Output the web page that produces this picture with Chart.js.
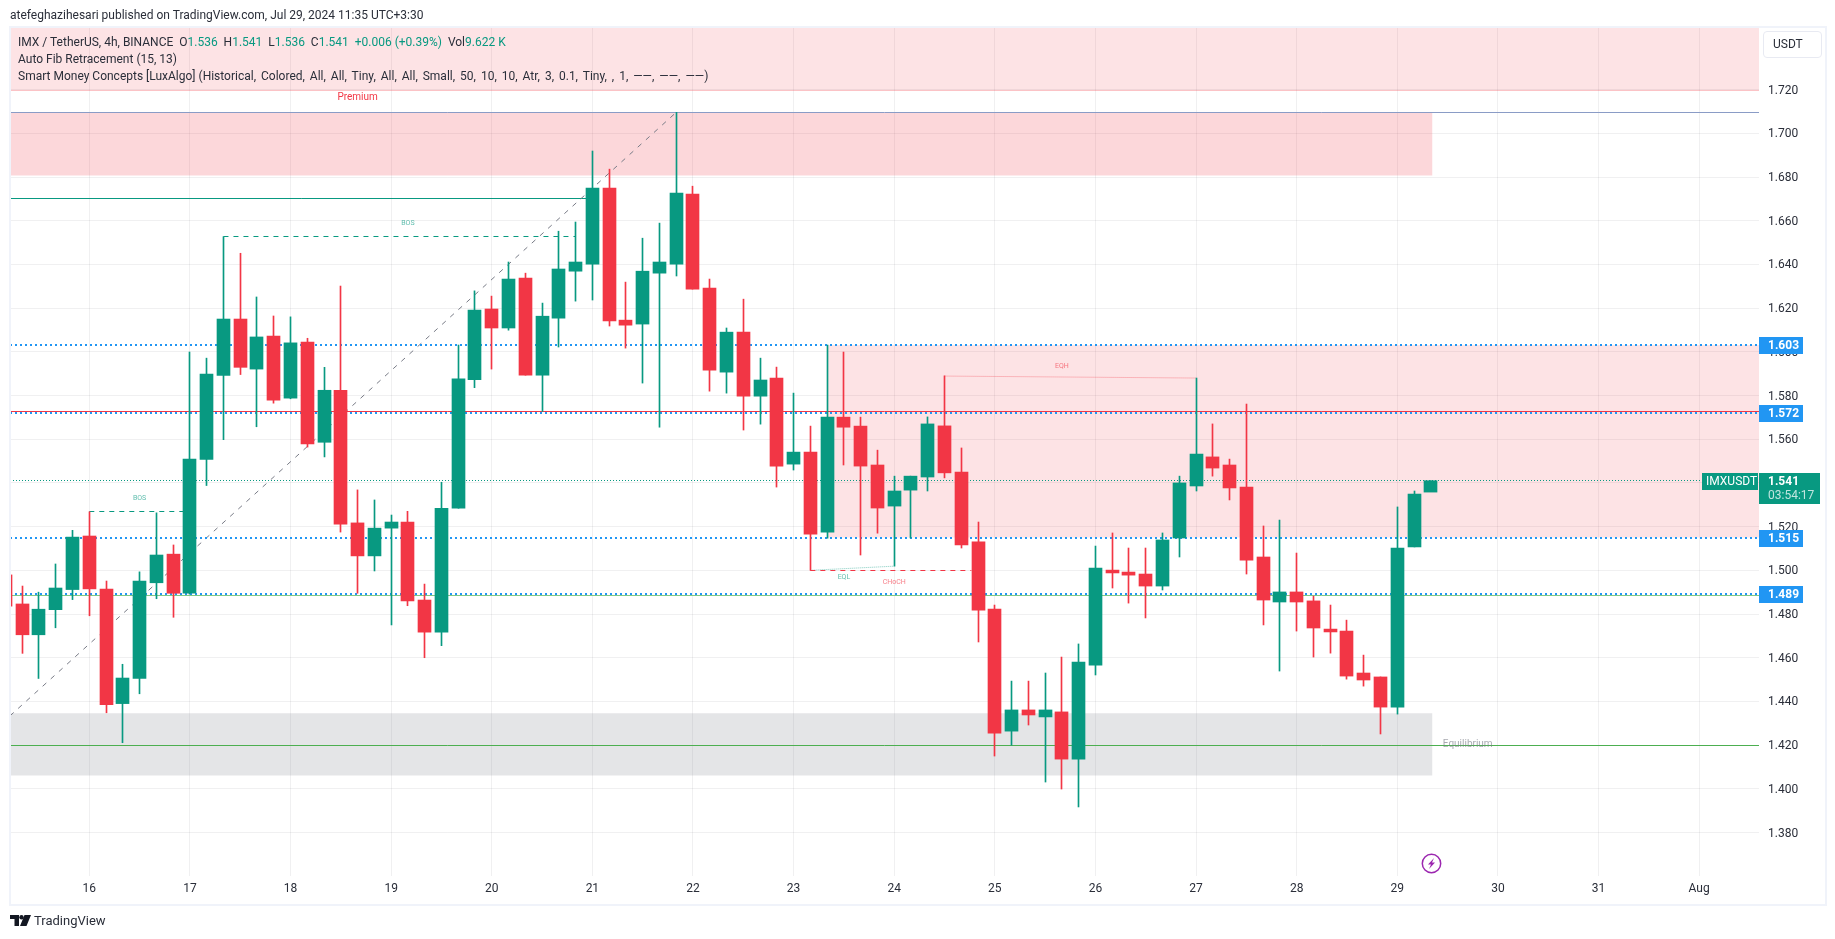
<!DOCTYPE html>
<html>
<head>
<meta charset="utf-8">
<title>IMX / TetherUS, 4h</title>
<script src="https://cdn.jsdelivr.net/npm/chart.js@4"></script>
<style>
    html, body { margin: 0; padding: 0; background: #fff; overflow: hidden; }
    body { width: 1835px; height: 939px; position: relative; font-family: Roboto, sans-serif; color: #131722; }
    #plot { position: absolute; left: 0; top: 0; width: 1835px; height: 939px; }
    #frame { position: absolute; left: 9px; top: 26px; width: 1814px; height: 876px; border: 2px solid #f0f3fa; pointer-events: none; }
    .line { position: absolute; white-space: pre; font-size: 12px; line-height: 16px; color: #2a2e39; }
    .line b { font-weight: 400; color: #089981; }
    .line i { font-style: normal; word-spacing: 2px; }
    #published { left: 10px; top: 7px; }
    #legend1 { left: 18px; top: 34px; }
    #legend2 { left: 18px; top: 51px; }
    #legend3 { left: 18px; top: 68px; }
    #usdt { position: absolute; left: 1763px; top: 31px; width: 57px; height: 25px; border: 1px solid #e8eaf2; border-radius: 4px; font-size: 12px; line-height: 25px; text-indent: 9px; color: #2a2e39; }
    #brand { position: absolute; left: 34px; top: 912px; font-size: 13px; line-height: 18px; color: #2a2e39; }
    #logo { position: absolute; left: 10px; top: 915px; }
    #bolt { position: absolute; left: 1421px; top: 853px; }
</style>
</head>
<body>
<canvas id="plot" width="1835" height="939"></canvas>
<div id="frame"></div>
<div class="line" id="published">atefeghazihesari published on TradingView.com, Jul 29, 2024 11:35 UTC+3:30</div>
<div class="line" id="legend1">IMX / TetherUS, 4h, BINANCE  O<b>1.536</b>  H<b>1.541</b>  L<b>1.536</b>  C<b>1.541</b>  <b>+0.006 (+0.39%)</b>  Vol<b>9.622 K</b></div>
<div class="line" id="legend2">Auto Fib Retracement (15, 13)</div>
<div class="line" id="legend3">Smart Money Concepts [LuxAlgo] <i>(Historical, Colored, All, All, Tiny, All, All, Small, 50, 10, 10, Atr, 3, 0.1, Tiny, , 1, ——, ——, ——)</i></div>
<div id="usdt">USDT</div>
<svg id="logo" width="22" height="11" viewBox="0 0 22 11">
    <path d="M0 0h9v11H4.5V4H0z M14.5 0H21l-4.5 11H10z" fill="#131722"/>
    <circle cx="11.5" cy="2.2" r="2.2" fill="#131722"/>
</svg>
<div id="brand">TradingView</div>
<svg id="bolt" width="21" height="21" viewBox="0 0 21 21">
    <circle cx="10.5" cy="10.5" r="9.2" fill="#fff" stroke="#9c27b0" stroke-width="1.5"/>
    <path d="M13 5 L7 11.5 H10 L8 16 L14 9.5 H11 Z" fill="#9c27b0"/>
</svg>

<script>
    // OHLC, one entry per 4h bar, first bar is cut by the left edge
    const opens = [1.4979, 1.4846, 1.4705, 1.4820, 1.4912, 1.5157, 1.4914, 1.4390, 1.4505, 1.4943, 1.5074,
        1.4895, 1.5507, 1.5892, 1.6150, 1.5921, 1.6072, 1.5788, 1.6045, 1.5586, 1.5824, 1.5217, 1.5066, 1.5193,
        1.5221, 1.4864, 1.4717, 1.5284, 1.5872, 1.6196, 1.6109, 1.6337, 1.5893, 1.6154, 1.6369, 1.6401, 1.6749,
        1.6145, 1.6127, 1.6360, 1.6401, 1.6722, 1.6292, 1.5907, 1.6090, 1.5797, 1.5880, 1.5486, 1.5541, 1.5175,
        1.5701, 1.5660, 1.5482, 1.5294, 1.5367, 1.5427, 1.5661, 1.5450, 1.5130, 1.4823, 1.4264, 1.4361, 1.4329,
        1.4352, 1.4136, 1.4566, 1.5001, 1.4992, 1.4983, 1.4928, 1.5148, 1.5386, 1.5519, 1.5482, 1.5381, 1.5061,
        1.4855, 1.4901, 1.4860, 1.4731, 1.4722, 1.4530, 1.4512, 1.4374, 1.5107, 1.5358];
    const highs = [1.5020, 1.4928, 1.4900, 1.5029, 1.5183, 1.5268, 1.4951, 1.4570, 1.4993, 1.5263, 1.5116,
        1.5999, 1.5971, 1.6527, 1.6451, 1.6251, 1.6164, 1.6160, 1.6062, 1.5929, 1.6301, 1.5368, 1.5322, 1.5253,
        1.5270, 1.4937, 1.5403, 1.6031, 1.6279, 1.6255, 1.6411, 1.6360, 1.6223, 1.6552, 1.6594, 1.6919, 1.6836,
        1.6319, 1.6520, 1.6589, 1.7096, 1.6758, 1.6333, 1.6109, 1.6241, 1.5971, 1.5930, 1.5811, 1.5660, 1.6031,
        1.5999, 1.5701, 1.5550, 1.5431, 1.5431, 1.5702, 1.5890, 1.5560, 1.5221, 1.4841, 1.4493, 1.4493, 1.4530,
        1.4603, 1.4663, 1.5111, 1.5171, 1.5102, 1.5102, 1.5171, 1.5431, 1.5880, 1.5670, 1.5509, 1.5761, 1.5203,
        1.5230, 1.5079, 1.4882, 1.4841, 1.4772, 1.4612, 1.4512, 1.5290, 1.5363, 1.5410];
    const lows = [1.4800, 1.4620, 1.4505, 1.4737, 1.4866, 1.4792, 1.4348, 1.4211, 1.4435, 1.4870, 1.4785,
        1.4891, 1.5388, 1.5598, 1.5896, 1.5657, 1.5765, 1.5785, 1.5564, 1.5519, 1.5175, 1.4895, 1.4997, 1.4750,
        1.4838, 1.4600, 1.4655, 1.5284, 1.5836, 1.5921, 1.6099, 1.5893, 1.5727, 1.6022, 1.6232, 1.6237, 1.6118,
        1.6017, 1.5857, 1.5655, 1.6347, 1.6287, 1.5820, 1.5811, 1.5642, 1.5669, 1.5381, 1.5459, 1.5000, 1.5147,
        1.5482, 1.5070, 1.5170, 1.5019, 1.5148, 1.5363, 1.5423, 1.5102, 1.4672, 1.4150, 1.4200, 1.4292, 1.4031,
        1.3999, 1.3917, 1.4521, 1.4919, 1.4850, 1.4782, 1.4910, 1.5061, 1.5363, 1.5431, 1.5322, 1.4983, 1.4750,
        1.4539, 1.4722, 1.4603, 1.4621, 1.4502, 1.4470, 1.4251, 1.4342, 1.5107, 1.5360];
    const closes = [1.4836, 1.4705, 1.4822, 1.4919, 1.5152, 1.4915, 1.4385, 1.4507, 1.4951, 1.5070, 1.4895,
        1.5509, 1.5898, 1.6150, 1.5929, 1.6068, 1.5779, 1.6041, 1.5578, 1.5824, 1.5211, 1.5066, 1.5193, 1.5221,
        1.4860, 1.4717, 1.5284, 1.5876, 1.6191, 1.6109, 1.6333, 1.5893, 1.6163, 1.6379, 1.6411, 1.6749, 1.6141,
        1.6122, 1.6369, 1.6411, 1.6726, 1.6287, 1.5916, 1.6090, 1.5797, 1.5871, 1.5477, 1.5541, 1.5166, 1.5701,
        1.5655, 1.5477, 1.5285, 1.5363, 1.5431, 1.5670, 1.5446, 1.5116, 1.4818, 1.4255, 1.4361, 1.4338, 1.4361,
        1.4136, 1.4580, 1.5010, 1.4988, 1.4978, 1.4928, 1.5139, 1.5400, 1.5532, 1.5468, 1.5377, 1.5047, 1.4864,
        1.4901, 1.4855, 1.4736, 1.4718, 1.4516, 1.4498, 1.4374, 1.5102, 1.5349, 1.5410];

    // axis
    const firstBar = 0.271, lastBar = 104.57;
    const priceMin = 1.3601, priceMax = 1.7482;
    const priceTicks = [1.38, 1.40, 1.42, 1.44, 1.46, 1.48, 1.50, 1.52, 1.54, 1.56, 1.58, 1.60, 1.62, 1.64, 1.66, 1.68, 1.70, 1.72];
    const dayTicks = [5, 11, 17, 23, 29, 35, 41, 47, 53, 59, 65, 71, 77, 83, 89, 95, 101];
    const dayLabels = ['16', '17', '18', '19', '20', '21', '22', '23', '24', '25', '26', '27', '28', '29', '30', '31', 'Aug'];

    // price levels with a tag on the axis
    const tagPrices = [1.603, 1.572, 1.515, 1.489];
    const lastPrice = 1.541;
    const timerText = '03:54:17';
    const symbolText = 'IMXUSDT';

    // smart money levels and zones
    const redLevel = 1.5728, lightGreenLevel = 1.4884, equilibriumLevel = 1.42, topLevel = 1.7096;
    const swingLevel = 1.67, swingEndBar = 35;
    const premiumZone = [1.7198, 1.7482];
    const supplyZone = [1.6809, 1.7096];
    const supplyEndBar = 85.1;
    const equilibriumZone = [1.4060, 1.4346];
    const orderBlock = [1.5148, 1.6031];
    const orderBlockStartBar = 49;
    const fibBars = [0.271, 40], fibPrices = [1.4334, 1.7096];
    const bosHighBars = [13, 34], bosHighPrice = 1.6527;
    const bosLowBars = [5, 10.6], bosLowPrice = 1.5268;
    const eqlBars = [48, 53], eqlPrices = [1.5000, 1.5019];
    const chochBars = [48, 57.6], chochPrice = 1.5000;
    const eqhBars = [56, 71], eqhPrices = [1.5889, 1.5880];

    // in-chart text: label, bar, price
    const noteLabels = ['Premium', 'BOS', 'BOS', 'EQH', 'EQL', 'CHoCH', 'Equilibrium'];
    const noteBars = [21, 24, 8, 63, 50, 53, 87.2];
    const notePrices = [1.7163, 1.6587, 1.5329, 1.5936, 1.4966, 1.4947, 1.4202];

    const TEAL = '#089981', RED = '#f23645', BLUE = '#2196f3', GRID = 'rgba(42,46,57,0.07)';
    const barColors = opens.map((o, i) => closes[i] >= o ? TEAL : RED);

    function segment(bars, prices, color, width, dash) {
        return {
            type: 'line', order: 5, pointRadius: 0, tension: 0, fill: false,
            borderColor: color, borderWidth: width, borderDash: dash || [],
            data: bars.map((b, i) => ({ x: b, y: prices[i] }))
        };
    }

    function level(price, color, width, dash) {
        return segment([firstBar, lastBar], [price, price], color, width, dash);
    }

    function zone(fromBar, toBar, range, color, edge) {
        const ds = segment([fromBar, toBar], [range[0], range[0]], edge || 'transparent', edge ? 1 : 0);
        ds.order = 6;
        ds.fill = { target: { value: range[1] } };
        ds.backgroundColor = color;
        return ds;
    }

    const datasets = [
        zone(firstBar, lastBar, premiumZone, 'rgba(242,54,69,0.14)', 'rgba(242,54,69,0.25)'),
        zone(firstBar, supplyEndBar, supplyZone, 'rgba(242,54,69,0.2)'),
        zone(firstBar, supplyEndBar, equilibriumZone, 'rgba(120,123,134,0.2)'),
        zone(orderBlockStartBar, lastBar, orderBlock, 'rgba(242,54,69,0.14)'),
        // first in the list is drawn on top
        ...tagPrices.map(p => level(p, BLUE, 2, [2, 3])),
        level(topLevel, '#8a9cc6', 1),
        level(redLevel, RED, 1),
        level(lightGreenLevel, '#81c784', 1),
        level(equilibriumLevel, '#4caf50', 1),
        level(lastPrice, TEAL, 1, [1, 2]),
        segment(fibBars, fibPrices, '#787b86', 1, [5, 6]),
        segment([firstBar, swingEndBar], [swingLevel, swingLevel], TEAL, 1),
        segment(bosHighBars, [bosHighPrice, bosHighPrice], TEAL, 1, [5, 5]),
        segment(bosLowBars, [bosLowPrice, bosLowPrice], TEAL, 1, [5, 5]),
        segment(chochBars, [chochPrice, chochPrice], RED, 1, [5, 5]),
        segment(eqlBars, eqlPrices, 'rgba(8,153,129,0.5)', 1, [1, 1]),
        segment(eqhBars, eqhPrices, 'rgba(242,54,69,0.55)', 1, [1, 1]),
        {
            // wicks
            type: 'bar', order: 2, grouped: false, barThickness: 1,
            backgroundColor: barColors,
            data: highs.map((h, i) => ({ x: i, y: [lows[i], h] }))
        },
        {
            // bodies
            type: 'bar', order: 1, grouped: false, barThickness: 13,
            backgroundColor: barColors,
            data: opens.map((o, i) => ({ x: i, y: [o, closes[i]] }))
        }
    ];

    // Marks land on fractional pixels, push them onto the pixel grid so they stay sharp
    const snapMarks = {
        id: 'snapMarks',
        afterDatasetsUpdate(chart) {
            chart.data.datasets.forEach((ds, i) => {
                const els = chart.getDatasetMeta(i).data;
                if (ds.type === 'bar') {
                    els.forEach(el => { el.x = Math.floor(el.x) + 0.5; });
                } else if (ds.data[0].y === ds.data[1].y) {
                    // even widths sit on a whole pixel, odd widths on a half
                    els.forEach(el => { el.y = ds.borderWidth === 2 ? Math.round(el.y) : Math.floor(el.y) + 0.5; });
                }
            });
        }
    };

    // In-chart labels and the price tags on the right axis
    const overlays = {
        id: 'overlays',
        afterDatasetsDraw(chart) {
            const { ctx, scales: { x, y } } = chart;
            const colors = { Premium: RED, BOS: TEAL, EQH: RED, EQL: TEAL, CHoCH: RED, Equilibrium: '#787b86' };
            const sizes = { Premium: 10, Equilibrium: 10 };
            ctx.save();
            ctx.textAlign = 'center';
            ctx.textBaseline = 'middle';
            noteLabels.forEach((t, i) => {
                ctx.globalAlpha = t === 'Premium' ? 1 : 0.65;
                ctx.fillStyle = colors[t];
                ctx.font = (sizes[t] || 7) + 'px Roboto';
                ctx.fillText(t, x.getPixelForValue(noteBars[i]), y.getPixelForValue(notePrices[i]));
            });
            ctx.restore();
        },
        afterDraw(chart) {
            const { ctx, chartArea, scales: { y } } = chart;
            const left = chartArea.right;
            ctx.save();
            ctx.textBaseline = 'middle';
            ctx.textAlign = 'left';
            tagPrices.forEach(p => {
                const py = Math.round(y.getPixelForValue(p));
                ctx.fillStyle = BLUE;
                ctx.fillRect(left, py - 8, 44, 17);
                ctx.fillStyle = '#fff';
                ctx.font = 'bold 12px Roboto';
                ctx.fillText(p.toFixed(3), left + 9, py + 1);
            });
            const py = Math.round(y.getPixelForValue(lastPrice));
            ctx.fillStyle = TEAL;
            ctx.fillRect(left, py - 8, 61, 31);
            ctx.fillRect(left - 57, py - 8, 56, 17);
            ctx.fillStyle = '#fff';
            ctx.font = 'bold 12px Roboto';
            ctx.fillText(lastPrice.toFixed(3), left + 9, py + 1);
            ctx.font = '12px Roboto';
            ctx.fillText(symbolText, left - 53, py + 1);
            ctx.fillStyle = 'rgba(255,255,255,0.75)';
            ctx.fillText(timerText, left + 9, py + 15);
            ctx.restore();
        }
    };

    new Chart(document.getElementById('plot'), {
        type: 'bar',
        data: { datasets: datasets },
        plugins: [snapMarks, overlays],
        options: {
            responsive: false,
            animation: false,
            layout: { padding: { left: 10, top: 28, right: 0, bottom: 0 } },
            plugins: { legend: { display: false }, tooltip: { enabled: false } },
            scales: {
                x: {
                    type: 'linear', offset: false, min: firstBar, max: lastBar,
                    border: { display: false },
                    grid: { offset: false, color: GRID, drawTicks: false },
                    afterBuildTicks: axis => { axis.ticks = dayTicks.map(v => ({ value: v })); },
                    afterFit: axis => { axis.height = 63; },
                    ticks: {
                        autoSkip: false, maxRotation: 0, padding: 6,
                        color: '#2a2e39', font: { family: 'Roboto', size: 12 },
                        callback: v => dayLabels[dayTicks.indexOf(v)]
                    }
                },
                y: {
                    position: 'right', min: priceMin, max: priceMax,
                    border: { display: false },
                    grid: { color: GRID, drawTicks: false },
                    afterBuildTicks: axis => { axis.ticks = priceTicks.map(v => ({ value: v })); },
                    afterFit: axis => { axis.width = 76; },
                    ticks: {
                        autoSkip: false, padding: 9, labelOffset: 1,
                        color: '#2a2e39', font: { family: 'Roboto', size: 12 },
                        callback: v => v.toFixed(3)
                    }
                }
            }
        }
    });
</script>
</body>
</html>
